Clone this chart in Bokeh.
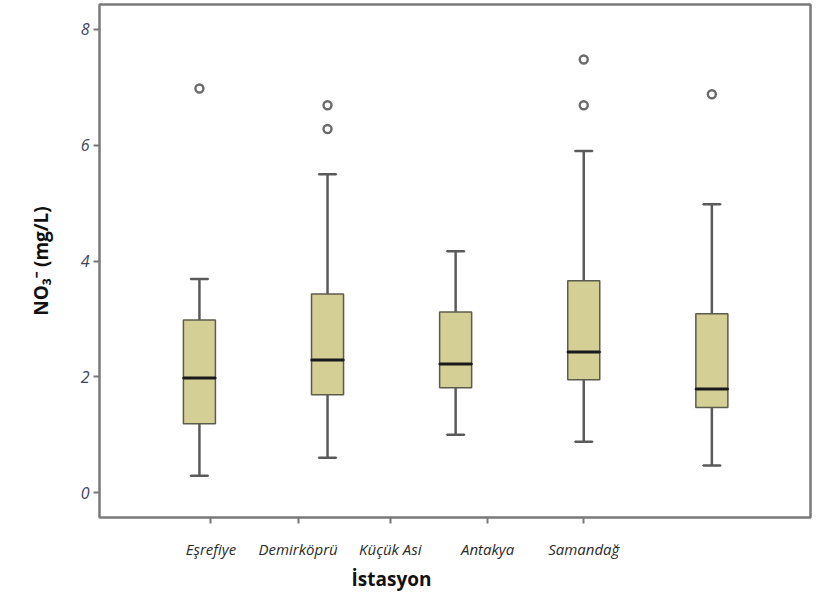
from bokeh.plotting import figure
from bokeh.models import ColumnDataSource, FixedTicker, Range1d, Title
from bokeh.embed import file_html
from bokeh.resources import INLINE

stations = ["Eşrefiye", "Demirköprü", "Küçük Asi", "Antakya", "Samandağ"]
whisker_low = [0.29, 0.60, 1.00, 0.88, 0.47]
q1 = [1.19, 1.69, 1.81, 1.95, 1.47]
median = [1.98, 2.29, 2.22, 2.43, 1.79]
q3 = [2.98, 3.43, 3.12, 3.66, 3.09]
whisker_high = [3.69, 5.50, 4.17, 5.90, 4.98]
outlier_station = [1, 2, 2, 4, 4, 5]
outlier_value = [6.98, 6.69, 6.28, 7.48, 6.69, 6.88]
y_ticks = [0, 2, 4, 6, 8]
# label positions as they appear on the original (offset from the boxes)
x_label_pos = [1.09, 1.77, 2.49, 3.25, 4.0]

xs = list(range(1, len(stations) + 1))
src = ColumnDataSource(dict(x=xs, lo=whisker_low, q1=q1, med=median, q3=q3, hi=whisker_high))

p = figure(width=821, height=596, output_backend="svg", toolbar_location=None,
           x_range=Range1d(0.22, 5.77), y_range=Range1d(-0.43, 8.43),
           min_border_left=99, min_border_right=11, min_border_top=4, min_border_bottom=79)
p.background_fill_color = "white"
p.border_fill_color = "white"
p.outline_line_color = "#7a7a7a"
p.outline_line_width = 2.5
p.xgrid.visible = False
p.ygrid.visible = False

bw = 0.25
cw = 0.135
# whiskers
p.segment(x0="x", y0="lo", x1="x", y1="q1", source=src, line_color="#5a5a5a", line_width=2.5)
p.segment(x0="x", y0="q3", x1="x", y1="hi", source=src, line_color="#5a5a5a", line_width=2.5)
p.rect(x="x", y="lo", width=cw, height=0.0001, source=src, line_color="#5a5a5a", line_width=2.5, fill_alpha=0)
p.rect(x="x", y="hi", width=cw, height=0.0001, source=src, line_color="#5a5a5a", line_width=2.5, fill_alpha=0)
# boxes
p.vbar(x="x", bottom="q1", top="q3", width=bw, source=src,
       fill_color="#d3cf95", line_color="#5c5c4c", line_width=1.5)
# medians
p.rect(x="x", y="med", width=bw, height=0.0001, source=src, line_color="#1a1a1a", line_width=3, fill_alpha=0)
# outliers
p.scatter(x=outlier_station, y=outlier_value, marker="circle", size=8,
          fill_color="white", line_color="#6a6a6a", line_width=2.4)

# axes
p.yaxis.ticker = FixedTicker(ticks=y_ticks)
p.yaxis.axis_line_color = None
p.yaxis.major_tick_out = 6
p.yaxis.major_tick_in = 0
p.yaxis.minor_tick_line_color = None
p.yaxis.major_tick_line_color = "#777777"
p.yaxis.major_tick_line_width = 2
p.yaxis.major_label_text_font = "Open Sans"
p.yaxis.major_label_text_font_style = "italic"
p.yaxis.major_label_text_font_size = "16px"
p.yaxis.major_label_text_color = "#3c4560"
p.yaxis.major_label_standoff = 4
p.yaxis.axis_label = "NO₃⁻ (mg/L)"
p.yaxis.axis_label_text_font = "Open Sans"
p.yaxis.axis_label_text_font_style = "bold"
p.yaxis.axis_label_text_font_size = "19px"
p.yaxis.axis_label_text_color = "#111111"
p.yaxis.axis_label_standoff = 24

p.xaxis.ticker = FixedTicker(ticks=x_label_pos)
p.xaxis.major_label_overrides = {t: s for t, s in zip(x_label_pos, stations)}
p.xaxis.axis_line_color = None
p.xaxis.major_tick_out = 6
p.xaxis.major_tick_in = 0
p.xaxis.minor_tick_line_color = None
p.xaxis.major_tick_line_color = "#777777"
p.xaxis.major_tick_line_width = 2
p.xaxis.major_label_text_font = "Open Sans"
p.xaxis.major_label_text_font_style = "italic"
p.xaxis.major_label_text_font_size = "15px"
p.xaxis.major_label_text_color = "#2a2a2a"
p.xaxis.major_label_standoff = 15

p.add_layout(Title(text="İstasyon", align="left", offset=252, text_font="Open Sans",
                   text_font_style="bold", text_font_size="19px", text_color="#111111",
                   standoff=5), "below")

open("out.html", "w").write(file_html(p, INLINE))
